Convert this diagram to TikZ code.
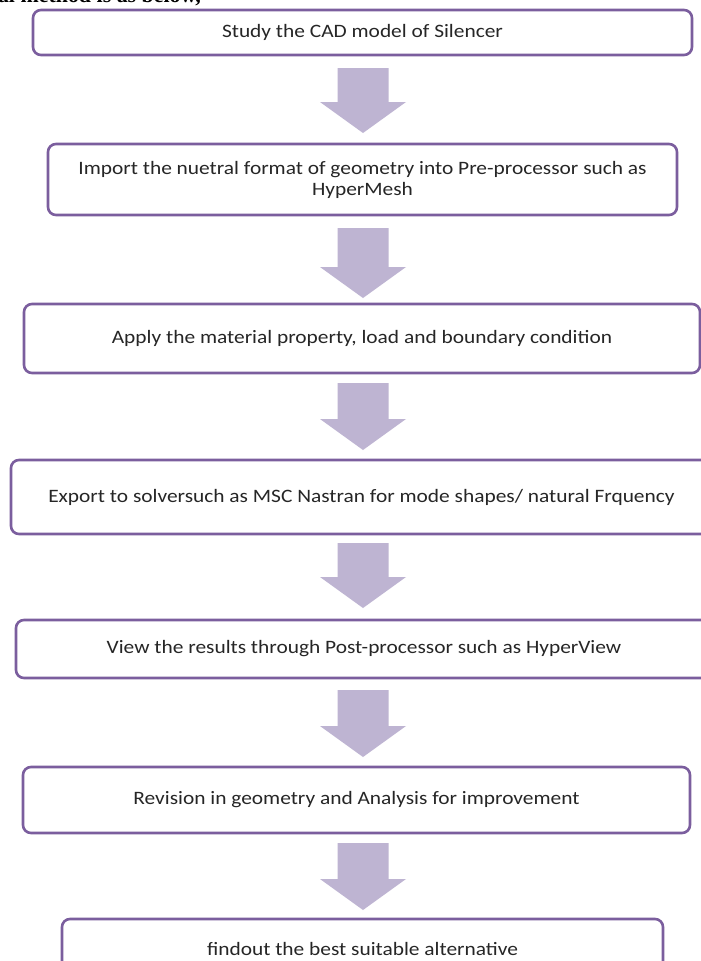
\documentclass[tikz,border=0pt]{standalone}
\usepackage{fontspec}
\setmainfont[FakeStretch=1.13]{Carlito}
\newfontfamily\serifbold{Liberation Serif}
\definecolor{boxline}{HTML}{7B5E9E}
\definecolor{arrowfill}{HTML}{BEB4D2}
\begin{document}
\begin{tikzpicture}[x=1bp,y=-1bp,
  box/.style={draw=boxline, line width=2.6bp, rounded corners=8bp, fill=white,
    inner sep=0pt, align=center, font=\fontsize{19}{21}\selectfont, text=black!85},
  blockarrow/.style={fill=arrowfill, draw=none}]
\useasboundingbox (0,0) rectangle (701,961);
\fill[white] (0,0) rectangle (701,961);
\node[anchor=base east, font=\serifbold\bfseries\fontsize{22}{24}\selectfont, inner sep=0pt] (intro) at (201,2.5) {nal method is as below,};
\node[box, minimum width=659bp, minimum height=45bp] (b1) at (362.5,32.5) {Study the CAD model of Silencer};
\node[box, minimum width=629bp, minimum height=71bp] (b2) at (362.5,179.5) {Import the nuetral format of geometry into Pre-processor such as\\HyperMesh};
\node[box, minimum width=676bp, minimum height=69bp] (b3) at (362,338.5) {Apply the material property, load and boundary condition};
\node[box, minimum width=701bp, minimum height=74bp] (b4) at (361.5,497) {Export to solversuch as MSC Nastran for mode shapes/ natural Frquency};
\node[box, minimum width=696bp, minimum height=58bp] (b5) at (364,649) {View the results through Post-processor such as HyperView};
\node[box, minimum width=667bp, minimum height=66bp] (b6) at (356.5,800) {Revision in geometry and Analysis for improvement};
\node[box, minimum width=601bp, minimum height=66bp] (b7) at (362.5,952) {\raisebox{7bp}{findout the best suitable alternative}};
\foreach \t/\b in {68/133, 228/298, 383/450, 543/608, 690/757, 843/910}{
  \fill[blockarrow] (337.5,\t) -- (388.5,\t) -- (388.5,\b-31) -- (406,\b-31) -- (363,\b) -- (320,\b-31) -- (337.5,\b-31) -- cycle;
}
\end{tikzpicture}
\end{document}
